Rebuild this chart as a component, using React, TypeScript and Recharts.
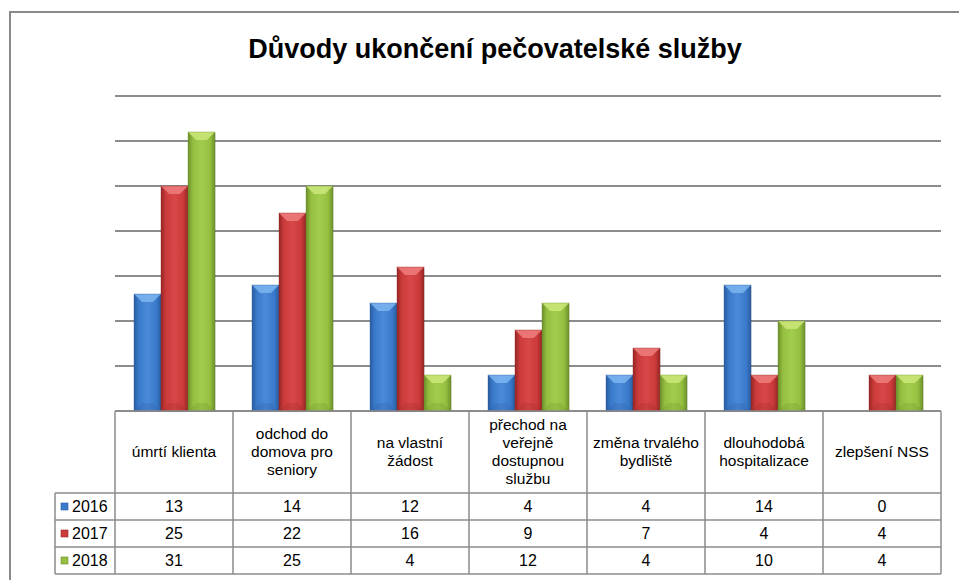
import React from 'react';
import { BarChart, Bar, XAxis, YAxis, CartesianGrid } from 'recharts';

const categories = [
  'úmrtí klienta',
  'odchod do\ndomova pro\nseniory',
  'na vlastní\nžádost',
  'přechod na\nveřejně\ndostupnou\nslužbu',
  'změna trvalého\nbydliště',
  'dlouhodobá\nhospitalizace',
  'zlepšení NSS',
];
const years = ['2016', '2017', '2018'];
const values2016 = [13, 14, 12, 4, 4, 14, 0];
const values2017 = [25, 22, 16, 9, 7, 4, 4];
const values2018 = [31, 25, 4, 12, 4, 10, 4];
const yTicks = [0, 5, 10, 15, 20, 25, 30, 35];

const seriesValues = [values2016, values2017, values2018];

const chartData = categories.map((name, i) => ({
  name,
  y2016: values2016[i],
  y2017: values2017[i],
  y2018: values2018[i],
}));

const FONT = '"Liberation Sans", Arial, sans-serif';
const LINE = '#8c8c8c';
const COL_W = 118;
const HEADER_H = 82;
const ROW_H = 27;

const palette = [
  { id: 'b', light: '#4a8ad8', mid: '#3a7acb', dark: '#2a5c9e', top: '#7db5f0' },
  { id: 'r', light: '#d84848', mid: '#cc3a3a', dark: '#962626', top: '#ee7e7e' },
  { id: 'g', light: '#a2cc4c', mid: '#95bf40', dark: '#6c8f2a', top: '#cbe87a' },
];

const makeShape = (k: number) => (props: any) => {
  const { x, y, width, height } = props;
  if (!height || height <= 0) return <g />;
  const p = palette[k];
  const b = Math.min(width * 0.3, height / 2);
  return (
    <g>
      <rect x={x + 1} y={y + 1} width={width} height={height} fill="rgba(0,0,0,0.1)" />
      <rect x={x} y={y} width={width} height={height} fill={`url(#body-${p.id})`} />
      <polygon
        points={`${x},${y} ${x + width},${y} ${x + width - b},${y + b} ${x + b},${y + b}`}
        fill={p.top}
        opacity={0.85}
      />
      <polygon
        points={`${x},${y + height} ${x + width},${y + height} ${x + width - b},${y + height - b} ${x + b},${y + height - b}`}
        fill={p.dark}
        opacity={0.25}
      />
      <rect x={x} y={y} width={width} height={height} fill="none" stroke={p.dark} strokeOpacity={0.45} strokeWidth={0.8} />
    </g>
  );
};

const TableTick = (props: any) => {
  const { x, y, payload } = props;
  const index = props.index ?? payload.index ?? 0;
  const left = x - COL_W / 2;
  const right = x + COL_W / 2;
  const lines: string[] = String(payload.value).split('\n');
  const lh = 18;
  const midY = y + HEADER_H / 2;
  const firstY = midY - ((lines.length - 1) * lh) / 2 + 5;
  const bottom = y + HEADER_H + ROW_H * 3;
  return (
    <g fontFamily={FONT} fontSize={15.5} fill="#000">
      {index === 0 && (
        <g>
          <line x1={left} y1={y} x2={left} y2={bottom} stroke={LINE} strokeWidth={1.5} />
          <line x1={left - 60} y1={y + HEADER_H} x2={left - 60} y2={bottom} stroke={LINE} strokeWidth={1.5} />
          {years.map((yr, r) => {
            const top = y + HEADER_H + r * ROW_H;
            const p = palette[r];
            return (
              <g key={yr}>
                <line x1={left - 60} y1={top} x2={left} y2={top} stroke={LINE} strokeWidth={1.5} />
                <rect x={left - 54} y={top + 10} width={7} height={7} fill={p.mid} stroke={p.dark} strokeWidth={0.6} />
                <text x={left - 43} y={top + ROW_H / 2 + 5.5} fontSize={16} fill="#000">{yr}</text>
              </g>
            );
          })}
          <line x1={left - 60} y1={bottom} x2={left} y2={bottom} stroke={LINE} strokeWidth={1.5} />
        </g>
      )}
      <line x1={right} y1={y} x2={right} y2={bottom} stroke={LINE} strokeWidth={1.5} />
      {lines.map((ln, i) => (
        <text key={i} x={x} y={firstY + i * lh} textAnchor="middle">{ln}</text>
      ))}
      {seriesValues.map((vals, r) => {
        const top = y + HEADER_H + r * ROW_H;
        return (
          <g key={r}>
            <line x1={left} y1={top} x2={right} y2={top} stroke={LINE} strokeWidth={1.5} />
            <text x={x} y={top + ROW_H / 2 + 5.5} textAnchor="middle" fontSize={16}>{vals[index]}</text>
          </g>
        );
      })}
      <line x1={left} y1={bottom} x2={right} y2={bottom} stroke={LINE} strokeWidth={1.5} />
    </g>
  );
};

export default function App() {
  return (
    <div style={{ position: 'absolute', left: 0, top: 0, width: 959, height: 580, background: '#fff', overflow: 'hidden' }}>
      <svg width={959} height={580} style={{ position: 'absolute', left: 0, top: 0 }}>
        <rect x={10} y={12} width={1000} height={700} fill="#fff" stroke="#8a8a8a" strokeWidth={2} />
        <text x={495} y={58} textAnchor="middle" fontFamily={FONT} fontWeight="bold" fontSize={27} fill="#000">
          Důvody ukončení pečovatelské služby
        </text>
      </svg>
      <div style={{ position: 'absolute', left: 0, top: 0 }}>
        <BarChart
          width={959}
          height={580}
          data={chartData}
          margin={{ top: 96, right: 18, left: 115, bottom: 0 }}
          barGap={0}
          barSize={27}
        >
          <defs>
            {palette.map((p) => (
              <linearGradient key={p.id} id={`body-${p.id}`} x1="0" y1="0" x2="1" y2="0">
                <stop offset="0%" stopColor={p.dark} />
                <stop offset="18%" stopColor={p.mid} />
                <stop offset="50%" stopColor={p.light} />
                <stop offset="82%" stopColor={p.mid} />
                <stop offset="100%" stopColor={p.dark} />
              </linearGradient>
            ))}
          </defs>
          <CartesianGrid vertical={false} stroke={LINE} strokeWidth={1.8} />
          <YAxis hide domain={[0, 35]} ticks={yTicks} />
          <XAxis
            dataKey="name"
            height={169}
            interval={0}
            tickLine={false}
            tickSize={0}
            tickMargin={0}
            axisLine={{ stroke: LINE, strokeWidth: 1.5 }}
            tick={<TableTick />}
          />
          <Bar dataKey="y2016" shape={makeShape(0)} isAnimationActive={false} />
          <Bar dataKey="y2017" shape={makeShape(1)} isAnimationActive={false} />
          <Bar dataKey="y2018" shape={makeShape(2)} isAnimationActive={false} />
        </BarChart>
      </div>
    </div>
  );
}
